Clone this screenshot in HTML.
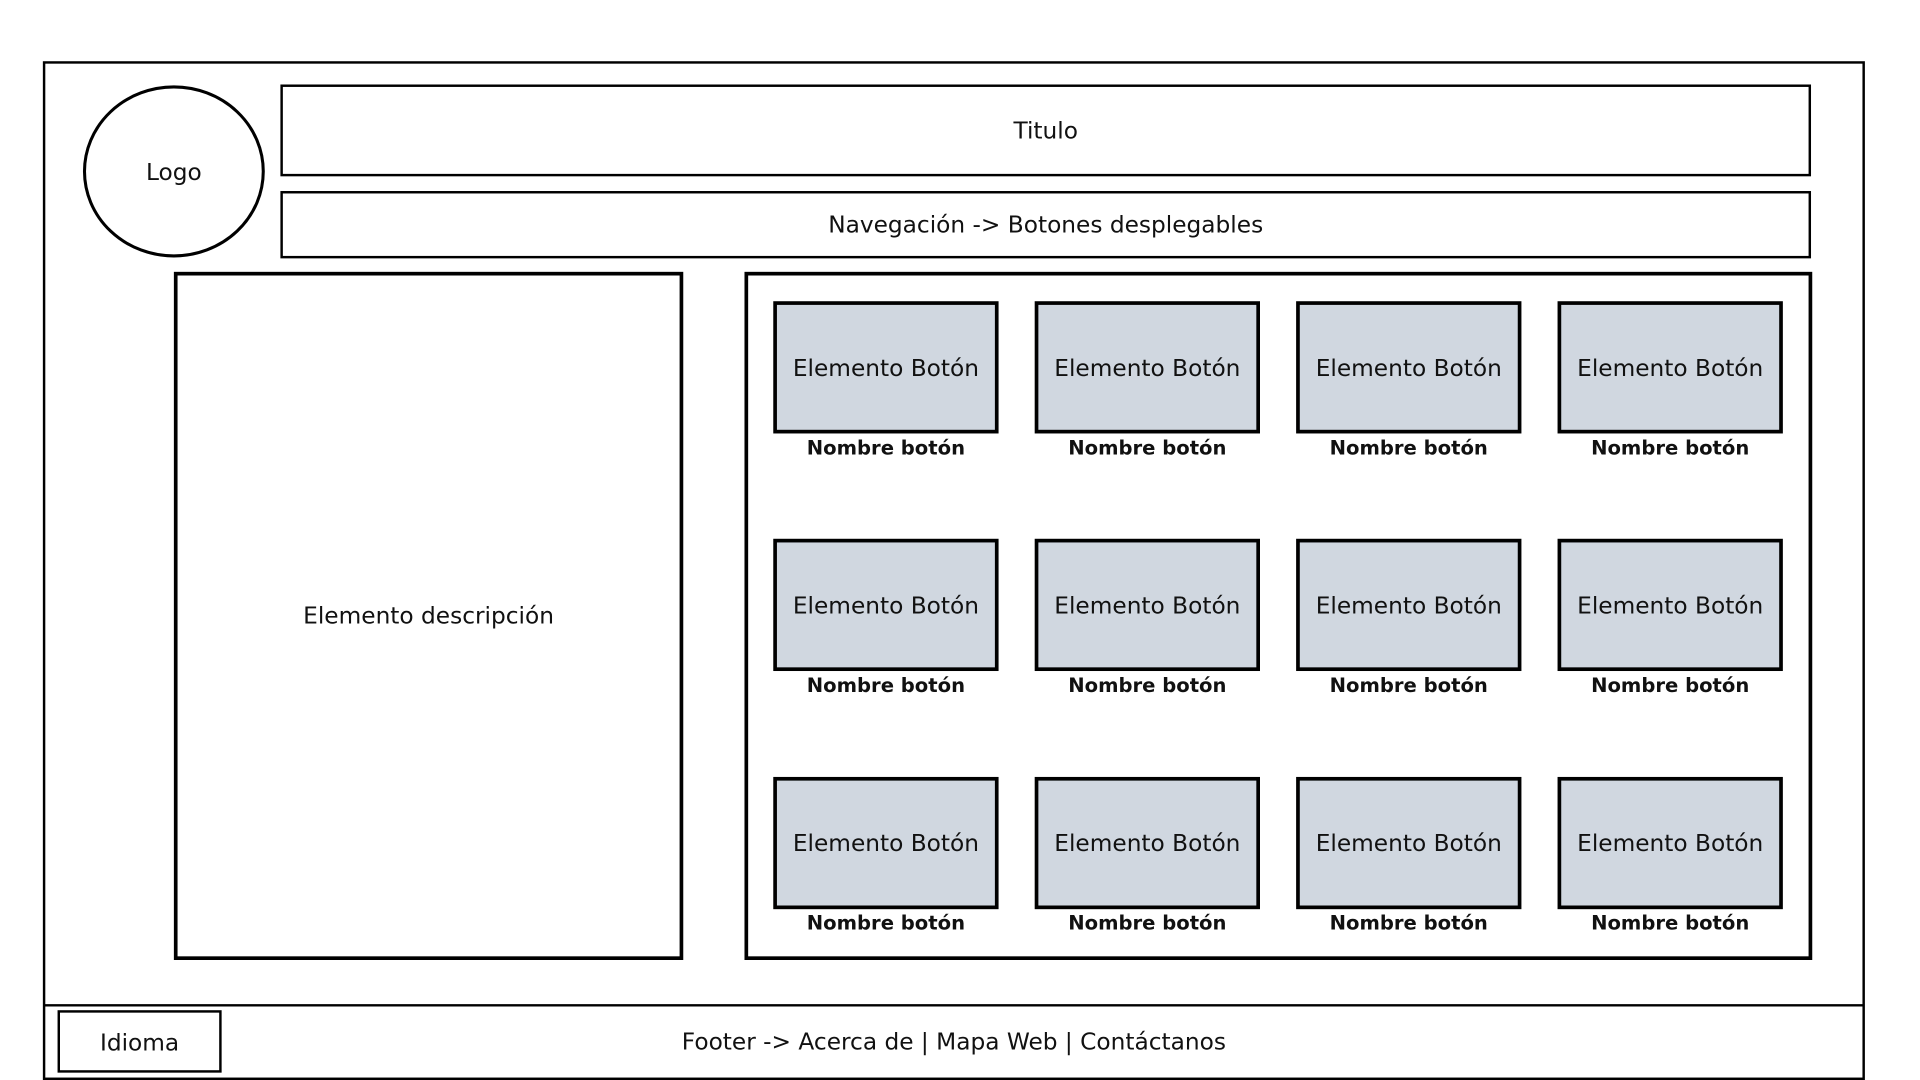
<!DOCTYPE html>
<html><head><meta charset="utf-8"><style>
html,body{margin:0;padding:0;background:#fff;}
svg{display:block;}
text{font-family:"DejaVu Sans","Liberation Sans",sans-serif;fill:#111;}
</style></head><body>
<svg width="1920" height="1080" viewBox="0 0 1568 882" xmlns="http://www.w3.org/2000/svg">
<rect x="0" y="0" width="1568" height="882" fill="#fff"/>
<rect x="36" y="51" width="1486" height="830" fill="none" stroke="#000" stroke-width="2"/>
<line x1="36" y1="821" x2="1522" y2="821" stroke="#000" stroke-width="2"/>
<ellipse cx="142" cy="140" rx="73" ry="69" fill="none" stroke="#000" stroke-width="2.5"/>
<text x="142" y="147" font-size="19" text-anchor="middle">Logo</text>
<rect x="230" y="70" width="1248" height="73" fill="none" stroke="#000" stroke-width="2"/>
<text x="854" y="113" font-size="19" text-anchor="middle">Titulo</text>
<rect x="230" y="157" width="1248" height="53" fill="none" stroke="#000" stroke-width="2"/>
<text x="854" y="190" font-size="19" text-anchor="middle">Navegación -&gt; Botones desplegables</text>
<rect x="143.5" y="223.5" width="413" height="559" fill="none" stroke="#000" stroke-width="3"/>
<text x="350" y="509" font-size="19" text-anchor="middle">Elemento descripción</text>
<rect x="609.5" y="223.5" width="869" height="559" fill="none" stroke="#000" stroke-width="3"/>
<g>
<g id="r1">
<rect x="633" y="247.5" width="181" height="105" fill="#d0d7e0" stroke="#000" stroke-width="3"/>
<rect x="846.5" y="247.5" width="181" height="105" fill="#d0d7e0" stroke="#000" stroke-width="3"/>
<rect x="1060" y="247.5" width="181" height="105" fill="#d0d7e0" stroke="#000" stroke-width="3"/>
<rect x="1273.5" y="247.5" width="181" height="105" fill="#d0d7e0" stroke="#000" stroke-width="3"/>
</g>
<use href="#r1" y="194"/>
<use href="#r1" y="388.5"/>
</g>
<g font-size="19" text-anchor="middle">
<text x="723.5" y="307">Elemento Botón</text><text x="937" y="307">Elemento Botón</text><text x="1150.5" y="307">Elemento Botón</text><text x="1364" y="307">Elemento Botón</text>
<text x="723.5" y="501">Elemento Botón</text><text x="937" y="501">Elemento Botón</text><text x="1150.5" y="501">Elemento Botón</text><text x="1364" y="501">Elemento Botón</text>
<text x="723.5" y="695">Elemento Botón</text><text x="937" y="695">Elemento Botón</text><text x="1150.5" y="695">Elemento Botón</text><text x="1364" y="695">Elemento Botón</text>
</g>
<g font-size="16" font-weight="bold" text-anchor="middle">
<text x="723.5" y="371">Nombre botón</text><text x="937" y="371">Nombre botón</text><text x="1150.5" y="371">Nombre botón</text><text x="1364" y="371">Nombre botón</text>
<text x="723.5" y="565">Nombre botón</text><text x="937" y="565">Nombre botón</text><text x="1150.5" y="565">Nombre botón</text><text x="1364" y="565">Nombre botón</text>
<text x="723.5" y="759">Nombre botón</text><text x="937" y="759">Nombre botón</text><text x="1150.5" y="759">Nombre botón</text><text x="1364" y="759">Nombre botón</text>
</g>
<rect x="48" y="826" width="132" height="49" fill="none" stroke="#000" stroke-width="2"/>
<text x="114" y="858" font-size="19" text-anchor="middle">Idioma</text>
<text x="779" y="857" font-size="19" text-anchor="middle">Footer -&gt; Acerca de | Mapa Web | Contáctanos</text>
</svg>
</body></html>
